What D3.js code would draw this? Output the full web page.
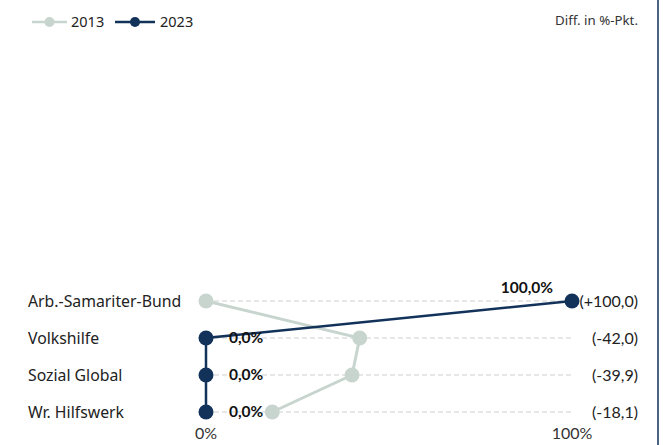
<!DOCTYPE html>
<html><head><meta charset="utf-8">
<script src="https://cdn.jsdelivr.net/npm/d3@7"></script>
<style>body{margin:0;background:#fff}svg{display:block;font-family:"Noto Sans",sans-serif}</style>
</head><body><svg id="c" width="663" height="445"></svg>
<script>
const categories = ["Arb.-Samariter-Bund","Volkshilfe","Sozial Global","Wr. Hilfswerk"];
const values2013 = [0.0, 42.0, 39.9, 18.1];
const values2023 = [100.0, 0.0, 0.0, 0.0];
const seriesNames = ["2013","2023"];
const tickLabels = ["0%","100%"];
const colors = {s2013:"#c8d5cf", s2023:"#12325a"};

const svg = d3.select("#c");
const x = d3.scaleLinear().domain([0,100]).range([206,572]);
const y = d3.scalePoint().domain(categories).range([301,412]);
const fmt = v => v.toFixed(1).replace(".", ",");

// right border
svg.append("line").attr("x1",658).attr("x2",658).attr("y1",0).attr("y2",445)
  .attr("stroke","#12325a").attr("stroke-width",1.5);

// grid
svg.append("g").selectAll("line").data(categories).join("line")
  .attr("x1",x(0)).attr("x2",x(100)).attr("y1",d=>y(d)).attr("y2",d=>y(d))
  .attr("stroke","#cfcfcf").attr("stroke-dasharray","5,3").attr("stroke-width",1);

// category labels
svg.append("g").selectAll("text").data(categories).join("text")
  .attr("x",28).attr("y",d=>y(d)).attr("dy","0.35em")
  .attr("font-size",15.8).attr("fill","#222").text(d=>d);

// axis tick labels
svg.append("g").selectAll("text").data([0,100]).join("text")
  .attr("x",d=>x(d)).attr("y",439).attr("text-anchor","middle")
  .attr("font-family","Lato").attr("font-size",16).attr("fill","#333").text((d,i)=>tickLabels[i]);

const line = d3.line().x(d=>x(d.v)).y(d=>y(d.c));
const d13 = categories.map((c,i)=>({c,v:values2013[i]}));
const d23 = categories.map((c,i)=>({c,v:values2023[i]}));

svg.append("path").datum(d13).attr("d",line).attr("fill","none")
  .attr("stroke",colors.s2013).attr("stroke-width",3);
svg.append("g").selectAll("circle").data(d13).join("circle")
  .attr("cx",d=>x(d.v)).attr("cy",d=>y(d.c)).attr("r",7.5).attr("fill",colors.s2013);

svg.append("path").datum(d23).attr("d",line).attr("fill","none")
  .attr("stroke",colors.s2023).attr("stroke-width",2.5);
svg.append("g").selectAll("circle").data(d23).join("circle")
  .attr("cx",d=>x(d.v)).attr("cy",d=>y(d.c)).attr("r",7.5).attr("fill",colors.s2023);

// 2023 value labels
svg.append("g").selectAll("text").data(d23).join("text")
  .attr("x",d=>d.v>=100 ? x(d.v)-19 : x(d.v)+23)
  .attr("y",d=>d.v>=100 ? y(d.c)-8 : y(d.c))
  .attr("dy",d=>d.v>=100 ? 0 : "0.35em")
  .attr("text-anchor",d=>d.v>=100 ? "end" : "start")
  .attr("font-family","Lato").attr("font-size",15.5).attr("font-weight","bold").attr("fill","#111")
  .text(d=>fmt(d.v)+"%");

// diff labels
svg.append("g").selectAll("text").data(categories).join("text")
  .attr("x",638).attr("y",d=>y(d)).attr("dy","0.35em").attr("text-anchor","end")
  .attr("font-family","Lato").attr("font-size",16).attr("fill","#222")
  .text((c,i)=>{const dv=values2023[i]-values2013[i]; return "("+(dv>0?"+":"")+fmt(dv)+")";});

svg.append("text").attr("x",638).attr("y",25).attr("text-anchor","end")
  .attr("font-size",13.3).attr("fill","#333").text("Diff. in %-Pkt.");

// legend
const leg = [{n:seriesNames[0],c:colors.s2013,x0:32,x1:67,tx:71},{n:seriesNames[1],c:colors.s2023,x0:115,x1:155,tx:160}];
const lg = svg.append("g");
leg.forEach(l=>{
  lg.append("line").attr("x1",l.x0).attr("x2",l.x1).attr("y1",22).attr("y2",22).attr("stroke",l.c).attr("stroke-width",2.5);
  lg.append("circle").attr("cx",(l.x0+l.x1)/2).attr("cy",22).attr("r",5).attr("fill",l.c);
  lg.append("text").attr("x",l.tx).attr("y",22).attr("dy","0.35em").attr("font-size",14.5).attr("fill","#222").text(l.n);
});
</script></body></html>
